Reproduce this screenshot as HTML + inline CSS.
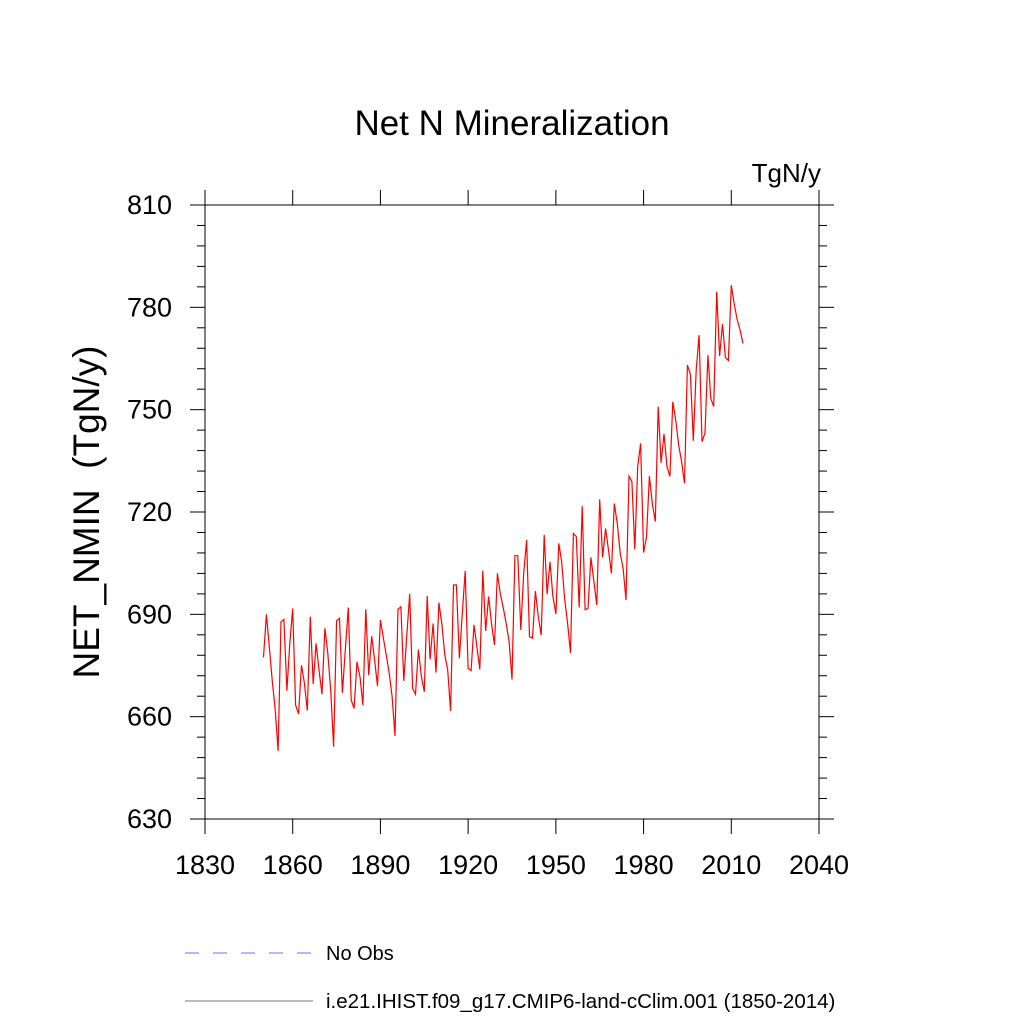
<!DOCTYPE html>
<html><head><meta charset="utf-8"><style>
body{margin:0;background:#fff}
svg text{font-family:"Liberation Sans",Arial,sans-serif;fill:#000}
</style></head><body>
<svg id="chart" width="1024" height="1024" viewBox="0 0 1024 1024" xmlns="http://www.w3.org/2000/svg">
<text x="512" y="135" font-size="35" text-anchor="middle">Net N Mineralization</text>
<text x="821" y="182" font-size="26" text-anchor="end">TgN/y</text>
<text transform="translate(99,512) rotate(-90)" font-size="37" text-anchor="middle">NET_NMIN&#160;&#160;(TgN/y)</text>
<g id="axes"></g>
<polyline id="series" fill="none" stroke="#ff0000" stroke-width="1.2"/>
<line x1="185" y1="953" x2="313" y2="953" stroke="#6b6bff" stroke-width="1" stroke-dasharray="14,14"/>
<text x="326" y="960" font-size="20">No Obs</text>
<line x1="185" y1="1001" x2="313" y2="1001" stroke="#777" stroke-width="1"/>
<text x="326" y="1008" font-size="20.5">i.e21.IHIST.f09_g17.CMIP6-land-cClim.001 (1850-2014)</text>
</svg>
<script>
const startYear = 1850;
const values = [677.4,690,680.5,670.7,662,650,687.8,688.5,667.6,681.5,691.7,663.4,660.8,675.1,669.8,661.8,689.3,669.6,681.5,673.7,666.6,685.9,678.6,667.8,651.2,688.1,688.8,667,679.5,692,664.9,662.4,676.1,671.7,663.4,691.5,672.2,683.6,676.6,669,688.3,683,678,672.7,665.9,654.4,691.5,692.2,670.5,683.4,696,668.3,666.6,679.7,671.7,667.3,695.4,676.8,687.3,672.9,693.4,687.3,678.1,673.7,661.7,698.6,698.6,677.1,690.3,702.7,674.2,673.5,686.9,680.5,673.9,702.8,685.1,695.2,687.3,681,702,696.1,692,687.3,682,670.9,707.2,707.2,685.4,702,711.8,683.4,683,696.8,689.3,683.9,713.3,695.9,705.4,695.2,690.1,710.8,705.4,694.7,687.3,678.7,713.7,712.8,692,721.7,691.4,691.7,706.7,699.6,692.7,723.7,706.7,715.2,708.8,702,722.5,716.6,707.9,703.5,694.2,730.5,728.9,709,733.3,740.1,708.1,712.7,730.5,722.5,717.2,750.9,734.4,742.9,733.3,730.4,752.3,747,739.6,734.7,728.4,763.1,760.4,740.9,761.6,771.9,740.6,743.2,766,753.3,750.9,784.6,765.7,775.1,765.3,764.4,786.5,781,776.5,773.3,769.4];
const xTicks = [1830,1860,1890,1920,1950,1980,2010,2040];
const yTicks = [630,660,690,720,750,780,810];
const X0=205,X1=819,Y0=205,Y1=819;
const xmin=1830,xmax=2040,ymin=630,ymax=810;
function sx(v){return X0+(v-xmin)/(xmax-xmin)*(X1-X0);}
function sy(v){return Y1-(v-ymin)/(ymax-ymin)*(Y1-Y0);}
const NS='http://www.w3.org/2000/svg';
const g=document.getElementById('axes');
function ln(x1,y1,x2,y2,name){const l=document.createElementNS(NS,'line');
l.setAttribute('x1',x1);l.setAttribute('y1',y1);l.setAttribute('x2',x2);l.setAttribute('y2',y2);
l.setAttribute('stroke','#000');l.setAttribute('stroke-width','1');


g.appendChild(l);}
function tx(x,y,s,anchor,name){const t=document.createElementNS(NS,'text');
t.setAttribute('x',x);t.setAttribute('y',y);t.setAttribute('font-size','27');t.setAttribute('text-anchor',anchor);t.textContent=s;


g.appendChild(t);}
const r=document.createElementNS(NS,'rect');
r.setAttribute('x',X0);r.setAttribute('y',Y0);r.setAttribute('width',X1-X0);r.setAttribute('height',Y1-Y0);
r.setAttribute('fill','none');r.setAttribute('stroke','#000');r.setAttribute('stroke-width','1');


g.appendChild(r);
xTicks.forEach(v=>{const x=sx(v);ln(x,Y1,x,Y1+15,'x-tick');ln(x,Y0,x,Y0-15,'x-tick-top');tx(x,874,String(v),'middle','x-tick-label');});
yTicks.forEach(v=>{const y=sy(v);ln(X0-15,y,X0,y,'y-tick');ln(X1,y,X1+15,y,'y-tick-right');tx(172,y+9,String(v),'end','y-tick-label');});
for(let v=ymin;v<ymax;v+=6){if((v-ymin)%30===0)continue;const y=sy(v);ln(X0-8,y,X0,y,'y-minor-tick');ln(X1,y,X1+8,y,'y-minor-tick-right');}
const pts=values.map((v,i)=>sx(startYear+i).toFixed(1)+','+sy(v).toFixed(1)).join(' ');
document.getElementById('series').setAttribute('points',pts);
</script>
</body></html>
